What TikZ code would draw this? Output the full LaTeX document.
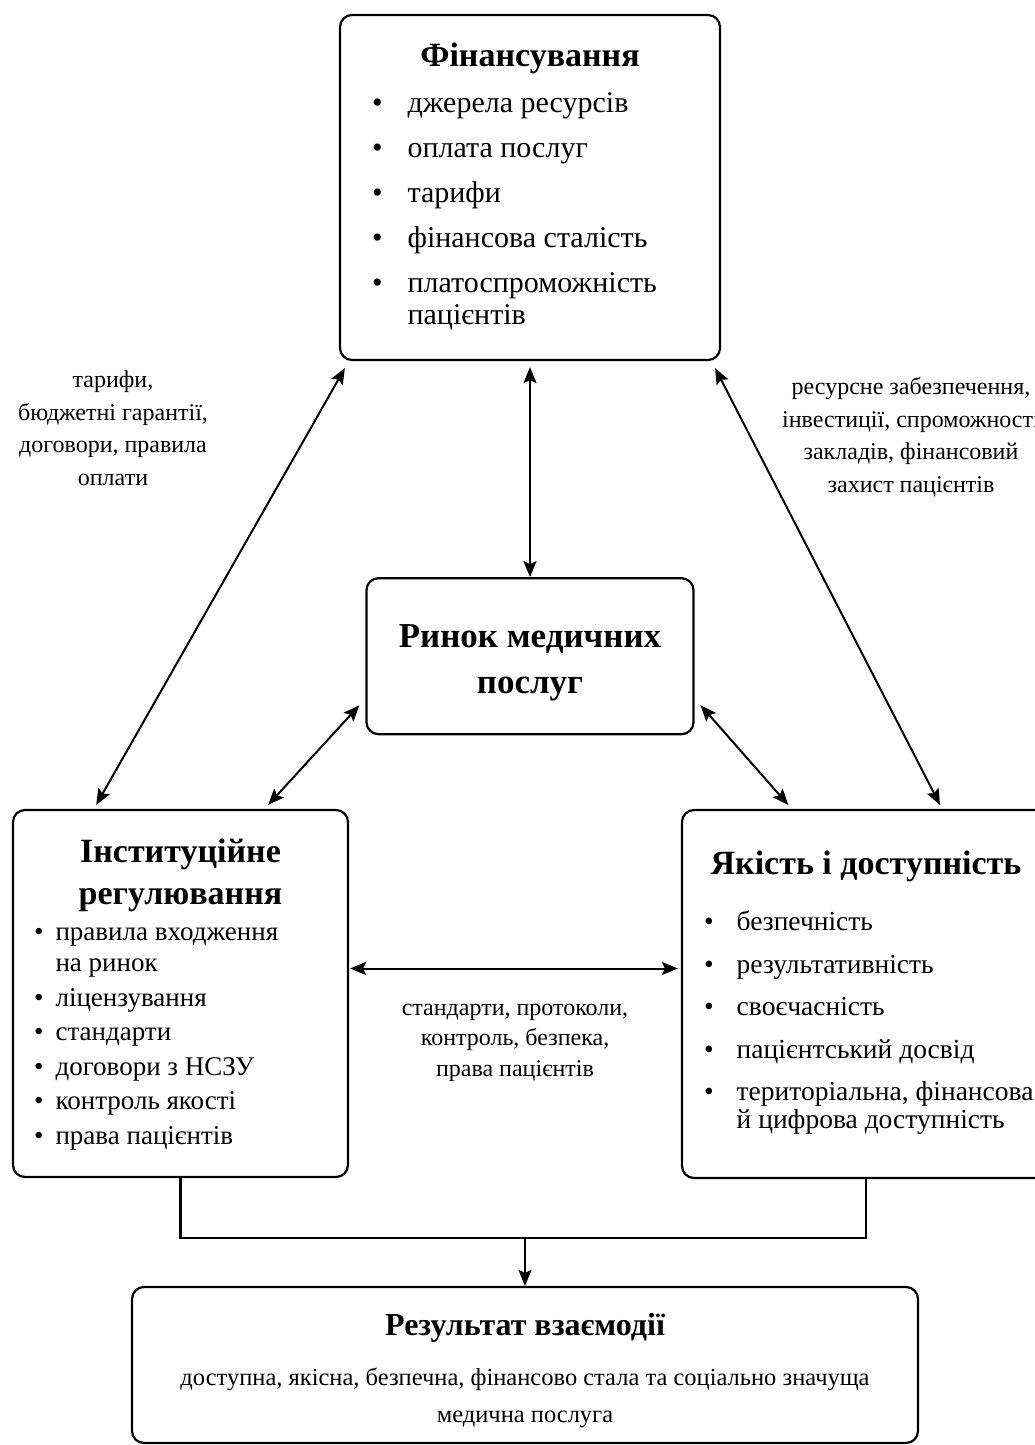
\documentclass[tikz,border=0pt]{standalone}
\usepackage{fontspec}
\setmainfont{Liberation Serif}
\usetikzlibrary{arrows.meta,positioning,calc}

\begin{document}
\begin{tikzpicture}[
            x=1pt, y=1pt,
            box/.style={rectangle, draw, rounded corners=12pt, line width=2.2pt, inner sep=0pt},
            head/.style={font=\fontsize{34}{42}\selectfont\bfseries, align=center, inner sep=0pt, anchor=base},
            list/.style={inner sep=0pt, anchor=base west},
            note/.style={font=\fontsize{24}{32.5}\selectfont, align=center, inner sep=0pt, anchor=base},
            arrow/.style={<->, line width=2pt, >={Stealth[length=16pt, width=13pt, inset=3pt]}},
            flow/.style={->, line width=2pt, >={Stealth[length=16pt, width=13pt, inset=3pt]}},
            link/.style={line width=2.2pt}
        ]
            \useasboundingbox (0,0) rectangle (1035,-1445);

            % Financing
            \node[box, minimum width=380pt, minimum height=345pt] (fin) at (530,-187.5) {};
            \node[head] (finhead) at ([yshift=-53]fin.north) {Фінансування};
            \node[list, font=\fontsize{30}{32}\selectfont] (finlist) at ([xshift=33, yshift=-99]fin.north west) {%
                \begin{tabular}[t]{@{}c@{\hspace{25pt}}l@{}}
                \textbullet & джерела ресурсів\\[13pt]
                \textbullet & оплата послуг\\[13pt]
                \textbullet & тарифи\\[13pt]
                \textbullet & фінансова сталість\\[13pt]
                \textbullet & платоспроможність\\
                            & пацієнтів
                \end{tabular}};

            % Market (base = last line)
            \node[box, minimum width=327pt, minimum height=156pt, below=216pt of fin] (mkt) {};
            \node[head, font=\fontsize{35}{46}\selectfont\bfseries] (mkthead) at ([yshift=-116]mkt.north) {Ринок медичних\\послуг};

            % Regulation
            \node[box, minimum width=335pt, minimum height=367pt] (inst) at (180.5,-993.5) {};
            \node[head] (insthead) at ([yshift=-96]inst.north) {Інституційне\\регулювання};
            \node[list, font=\fontsize{27}{31}\selectfont] (instlist) at ([xshift=22, yshift=-132]inst.north west) {%
                \begin{tabular}[t]{@{}c@{\hspace{12pt}}l@{}}
                \textbullet & правила входження\\
                            & на ринок\\[3.5pt]
                \textbullet & ліцензування\\[3.5pt]
                \textbullet & стандарти\\[3.5pt]
                \textbullet & договори з НСЗУ\\[3.5pt]
                \textbullet & контроль якості\\[3.5pt]
                \textbullet & права пацієнтів
                \end{tabular}};

            % Quality
            \node[box, minimum width=368pt, minimum height=368pt] (qual) at (866,-994) {};
            \node[head] (qualhead) at ([yshift=-66]qual.north) {Якість і доступність};
            \node[list, font=\fontsize{27.5}{28}\selectfont] (quallist) at ([xshift=23, yshift=-122]qual.north west) {%
                \begin{tabular}[t]{@{}c@{\hspace{23pt}}l@{}}
                \textbullet & безпечність\\[14.5pt]
                \textbullet & результативність\\[14.5pt]
                \textbullet & своєчасність\\[14.5pt]
                \textbullet & пацієнтський досвід\\[14.5pt]
                \textbullet & територіальна, фінансова\\
                            & й цифрова доступність
                \end{tabular}};

            % Result
            \node[box, minimum width=786pt, minimum height=156pt] (res) at (525,-1365) {};
            \node[head, font=\fontsize{32}{40}\selectfont\bfseries] (reshead) at ([yshift=-50]res.north) {Результат взаємодії};
            \node[note, font=\fontsize{24.5}{37}\selectfont] (restext) at ([yshift=-137]res.north) {доступна, якісна, безпечна, фінансово стала та соціально значуща\\медична послуга};

            % Arrows
            \draw[arrow] (fin.south -| mkt.north) ++(0,-6) -- (mkt.north);
            \draw[arrow] ($(fin.south west)+(6,-7)$) -- ($(inst.north west)!.25!(inst.north east)+(0,4)$);
            \draw[arrow] ($(fin.south east)+(-6,-7)$) -- ($(qual.north west)!.7!(qual.north east)+(0,4)$);
            \draw[arrow] ($(mkt.south west)+(-6,30)$) -- ($(inst.north west)!.76!(inst.north east)+(0,4)$);
            \draw[arrow] ($(mkt.south east)+(6,30)$) -- ($(qual.north west)!.29!(qual.north east)+(0,4)$);
            \draw[arrow, shorten <=1pt, shorten >=3pt] ([yshift=25]inst.east) -- ([yshift=25]inst.east -| qual.west);

            \coordinate (merge) at ($(inst.south)+(0,-60)$);
            \draw[link] (inst.south) -- (merge) -| (qual.south);
            \draw[flow] (merge -| res.north) -- (res.north);

            % Labels (base = last line)
            \node[note] (finlbl) at (113,-485) {тарифи,\\бюджетні гарантії,\\договори, правила\\оплати};
            \node[note] (qlbl) at (911,-492) {ресурсне забезпечення,\\інвестиції, спроможності\\закладів, фінансовий\\захист пацієнтів};
            \node[note, font=\fontsize{24}{30.5}\selectfont] (stdlbl) at (515,-1076) {стандарти, протоколи,\\контроль, безпека,\\права пацієнтів};
        \end{tikzpicture}
\end{document}
